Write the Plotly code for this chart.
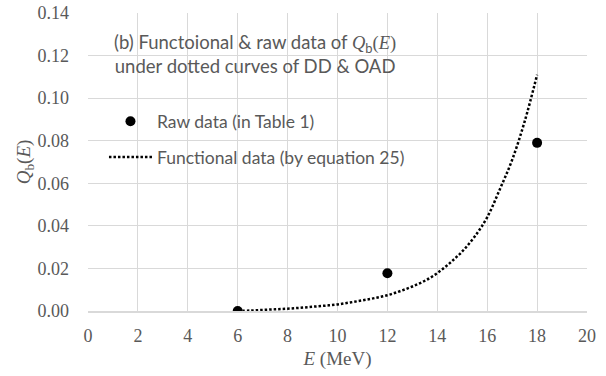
import plotly.graph_objects as go

# Raw data points (Table 1)
raw_E = [6, 12, 18]
raw_Q = [0.0, 0.0177, 0.079]

# Functional data points (equation 25), sampled every 0.5 MeV
fun_E = [6, 6.5, 7, 7.5, 8, 8.5, 9, 9.5, 10, 10.5, 11, 11.5, 12,
         12.5, 13, 13.5, 14, 14.5, 15, 15.5, 16, 16.5, 17, 17.5, 18]
fun_Q = [0.0, 0.0002, 0.0005, 0.0008, 0.0011, 0.0015, 0.0020, 0.0025,
         0.0031, 0.0040, 0.0050, 0.0061, 0.0074, 0.0093, 0.0115, 0.0142,
         0.0178, 0.0225, 0.0280, 0.0350, 0.0440, 0.0570, 0.0710, 0.0890,
         0.1110]

x_ticks = [0, 2, 4, 6, 8, 10, 12, 14, 16, 18, 20]
y_ticks = [0.0, 0.02, 0.04, 0.06, 0.08, 0.10, 0.12, 0.14]

GRID = "#d9d9d9"
TXT = "#595959"
SERIF = "Liberation Serif"
SANS = "Lato"

fig = go.Figure()

fig.add_trace(go.Scatter(
    x=raw_E, y=raw_Q, mode="markers",
    name="Raw data (in Table 1)",
    marker=dict(color="black", size=10),
    legendgroup="raw",
))
fig.add_trace(go.Scatter(
    x=fun_E, y=fun_Q, mode="lines",
    name="Functional data (by equation 25)",
    line=dict(color="black", width=2.5, dash="2.5px,2px", shape="spline"),
    legendgroup="fun",
))

fig.add_annotation(
    x=6.7, y=0.1207, xref="x", yref="y", showarrow=False,
    align="center",
    text=("(b) Functoional &amp; raw data of "
          "<span style='font-family:Liberation Serif'><i>Q</i></span>"
          "<sub>b</sub><span style='font-family:Liberation Serif'>(<i>E</i>)</span>"
          "<br>under dotted curves of DD &amp; OAD"),
    font=dict(family=SANS, size=18.5, color=TXT),
)

fig.update_layout(
    width=606, height=376,
    margin=dict(l=88, r=19, t=13, b=65),
    paper_bgcolor="white", plot_bgcolor="white",
    font=dict(family=SERIF, size=18, color=TXT),
    showlegend=True,
    legend=dict(
        x=0.032, y=0.697, xanchor="left", yanchor="top",
        bgcolor="rgba(0,0,0,0)",
        font=dict(family=SANS, size=17.5, color=TXT),
        traceorder="grouped", tracegroupgap=10,
        itemwidth=43,
    ),
    xaxis=dict(
        range=[0, 20], tickvals=x_ticks, automargin=False,
        showgrid=True, gridcolor=GRID, gridwidth=1,
        showline=True, linecolor=GRID, linewidth=1.5,
        zeroline=False, ticks="",
        tickfont=dict(family=SERIF, size=18, color=TXT),
        ticklabelstandoff=8,
        title=dict(text="<i>E</i> (MeV)", standoff=6,
                   font=dict(family=SERIF, size=19, color=TXT)),
    ),
    yaxis=dict(
        range=[0, 0.14], tickvals=y_ticks, tickformat=".2f", automargin=False,
        showgrid=True, gridcolor=GRID, gridwidth=1,
        zeroline=False, ticks="",
        tickfont=dict(family=SERIF, size=18, color=TXT),
        ticklabelstandoff=18,
        title=dict(text="<i>Q</i><sub>b</sub>(<i>E</i>)", standoff=1,
                   font=dict(family=SERIF, size=19, color=TXT)),
    ),
)

fig.write_html("out.html")
